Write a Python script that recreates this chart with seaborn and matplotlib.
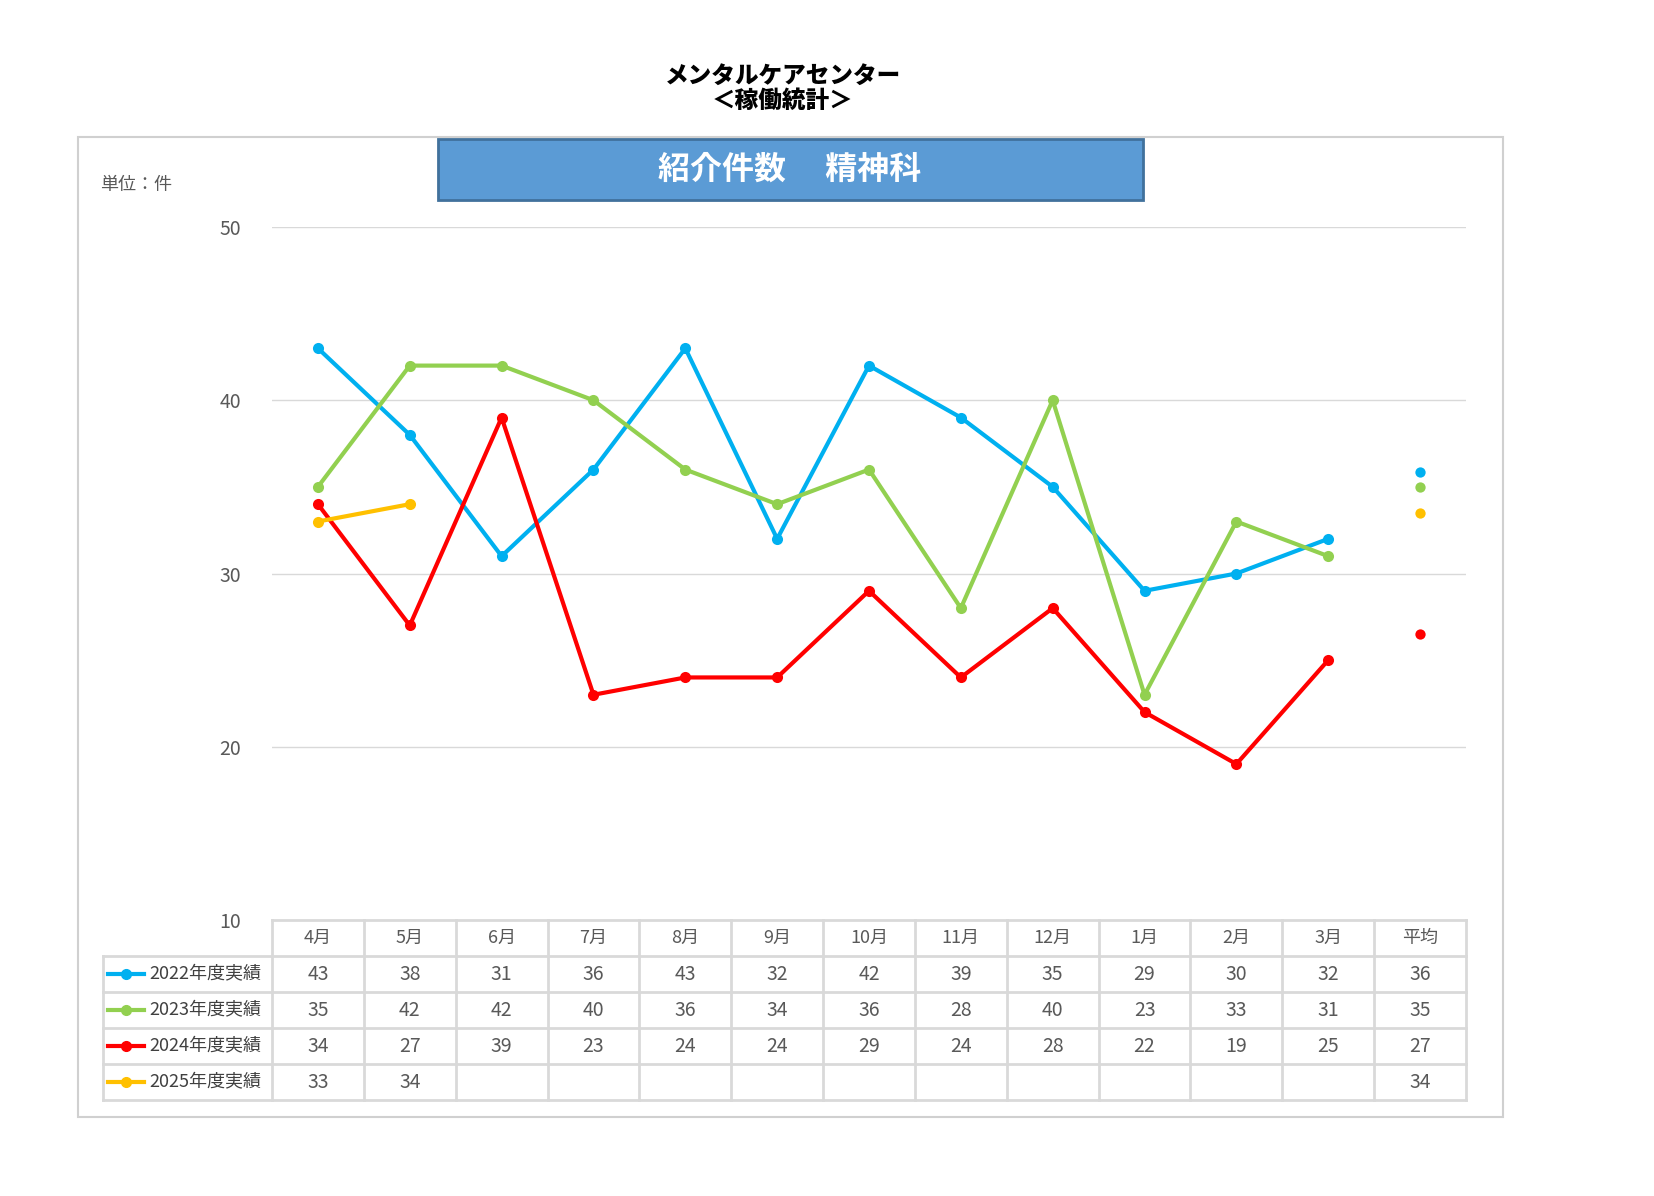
import matplotlib
matplotlib.use("Agg")
import matplotlib.pyplot as plt
import seaborn as sns
import numpy as np
import pandas as pd
from matplotlib.patches import Rectangle

plt.rcParams["font.family"] = "Noto Sans CJK JP"

months = ["4月", "5月", "6月", "7月", "8月", "9月", "10月", "11月", "12月", "1月", "2月", "3月"]
series_names = ["2022年度実績", "2023年度実績", "2024年度実績", "2025年度実績"]
v2022 = [43, 38, 31, 36, 43, 32, 42, 39, 35, 29, 30, 32]
v2023 = [35, 42, 42, 40, 36, 34, 36, 28, 40, 23, 33, 31]
v2024 = [34, 27, 39, 23, 24, 24, 29, 24, 28, 22, 19, 25]
v2025 = [33, 34]
colors = ["#00B0F0", "#92D050", "#FF0000", "#FFC000"]
yticks = [10, 20, 30, 40, 50]

W, H = 1654, 1196
fig = plt.figure(figsize=(W / 100, H / 100), dpi=100)

def px_axes(x0, y0, x1, y1):
    return fig.add_axes([x0 / W, 1 - y1 / H, (x1 - x0) / W, (y1 - y0) / H])

# frame and title
bg = px_axes(0, 0, W, H)
bg.set_xlim(0, W); bg.set_ylim(H, 0); bg.axis("off")
bg.add_patch(Rectangle((78, 137), 1425, 980, fill=False, ec="#D0D0D0", lw=1.5))
bg.add_patch(Rectangle((438, 139), 705, 61, fc="#5B9BD5", ec="#41719C", lw=2))
bg.text(790, 170, "紹介件数　 精神科", color="white", fontsize=23, fontweight="bold", ha="center", va="center")
bg.text(783, 88, "メンタルケアセンター\n＜稼働統計＞", fontsize=17, fontweight="black", ha="center", va="center", linespacing=1.0)
bg.text(100, 185, "単位：件", fontsize=13, color="#595959", va="center")

# main chart
ax = px_axes(272, 227, 1466, 920)
all_vals = [v2022, v2023, v2024, v2025]
rows = []
for name, vals in zip(series_names, all_vals):
    for i, v in enumerate(vals):
        rows.append({"series": name, "x": i, "value": v})
df = pd.DataFrame(rows)
sns.lineplot(data=df, x="x", y="value", hue="series", palette=colors, marker="o",
             markersize=8, markeredgewidth=0, linewidth=3, legend=False, ax=ax)
averages = [np.mean(v) for v in all_vals]
for avg, c in zip(averages, colors):
    ax.scatter(12, avg, color=c, s=55, zorder=3, linewidths=0)
ax.set_xlim(-0.5, 12.5)
ax.set_ylim(10, 50)
ax.set_yticks(yticks)
for t in yticks[1:]:
    ax.axhline(t, color="#D9D9D9", lw=1, zorder=0)
ax.set_xticks([])
ax.tick_params(axis="y", length=0, labelsize=14, labelcolor="#595959", pad=22)
ax.set_xlabel(""); ax.set_ylabel("")
for s in ax.spines.values():
    s.set_visible(False)

# data table
tab = px_axes(103, 920, 1466, 1100)
label_w = 169 / (1194 / 13)
tab.set_xlim(-0.5 - label_w, 12.5)
tab.set_ylim(5, 0)
tab.axis("off")
gc = "#D9D9D9"
for r in range(6):
    x0 = -0.5 if r == 0 else -0.5 - label_w
    tab.plot([x0, 12.5], [r, r], color=gc, lw=2, clip_on=False)
for c in range(14):
    tab.plot([c - 0.5, c - 0.5], [0, 5], color=gc, lw=2, clip_on=False)
tab.plot([-0.5 - label_w] * 2, [1, 5], color=gc, lw=2, clip_on=False)
for i, m in enumerate(months + ["平均"]):
    tab.text(i, 0.5, m, ha="center", va="center", fontsize=13, color="#595959")
for r, (name, vals, c, avg) in enumerate(zip(series_names, all_vals, colors, averages), start=1):
    x0 = -0.5 - label_w
    tab.plot([x0 + 0.05, x0 + 0.45], [r + 0.5, r + 0.5], color=c, lw=3, clip_on=False)
    tab.plot([x0 + 0.25], [r + 0.5], "o", color=c, ms=7, clip_on=False)
    tab.text(x0 + 0.5, r + 0.5, name, ha="left", va="center", fontsize=13, color="#404040")
    for i, v in enumerate(vals):
        tab.text(i, r + 0.5, str(v), ha="center", va="center", fontsize=14, color="#595959")
    tab.text(12, r + 0.5, str(int(np.floor(avg + 0.5))), ha="center", va="center", fontsize=14, color="#595959")

fig.savefig("out.png", dpi=100)
